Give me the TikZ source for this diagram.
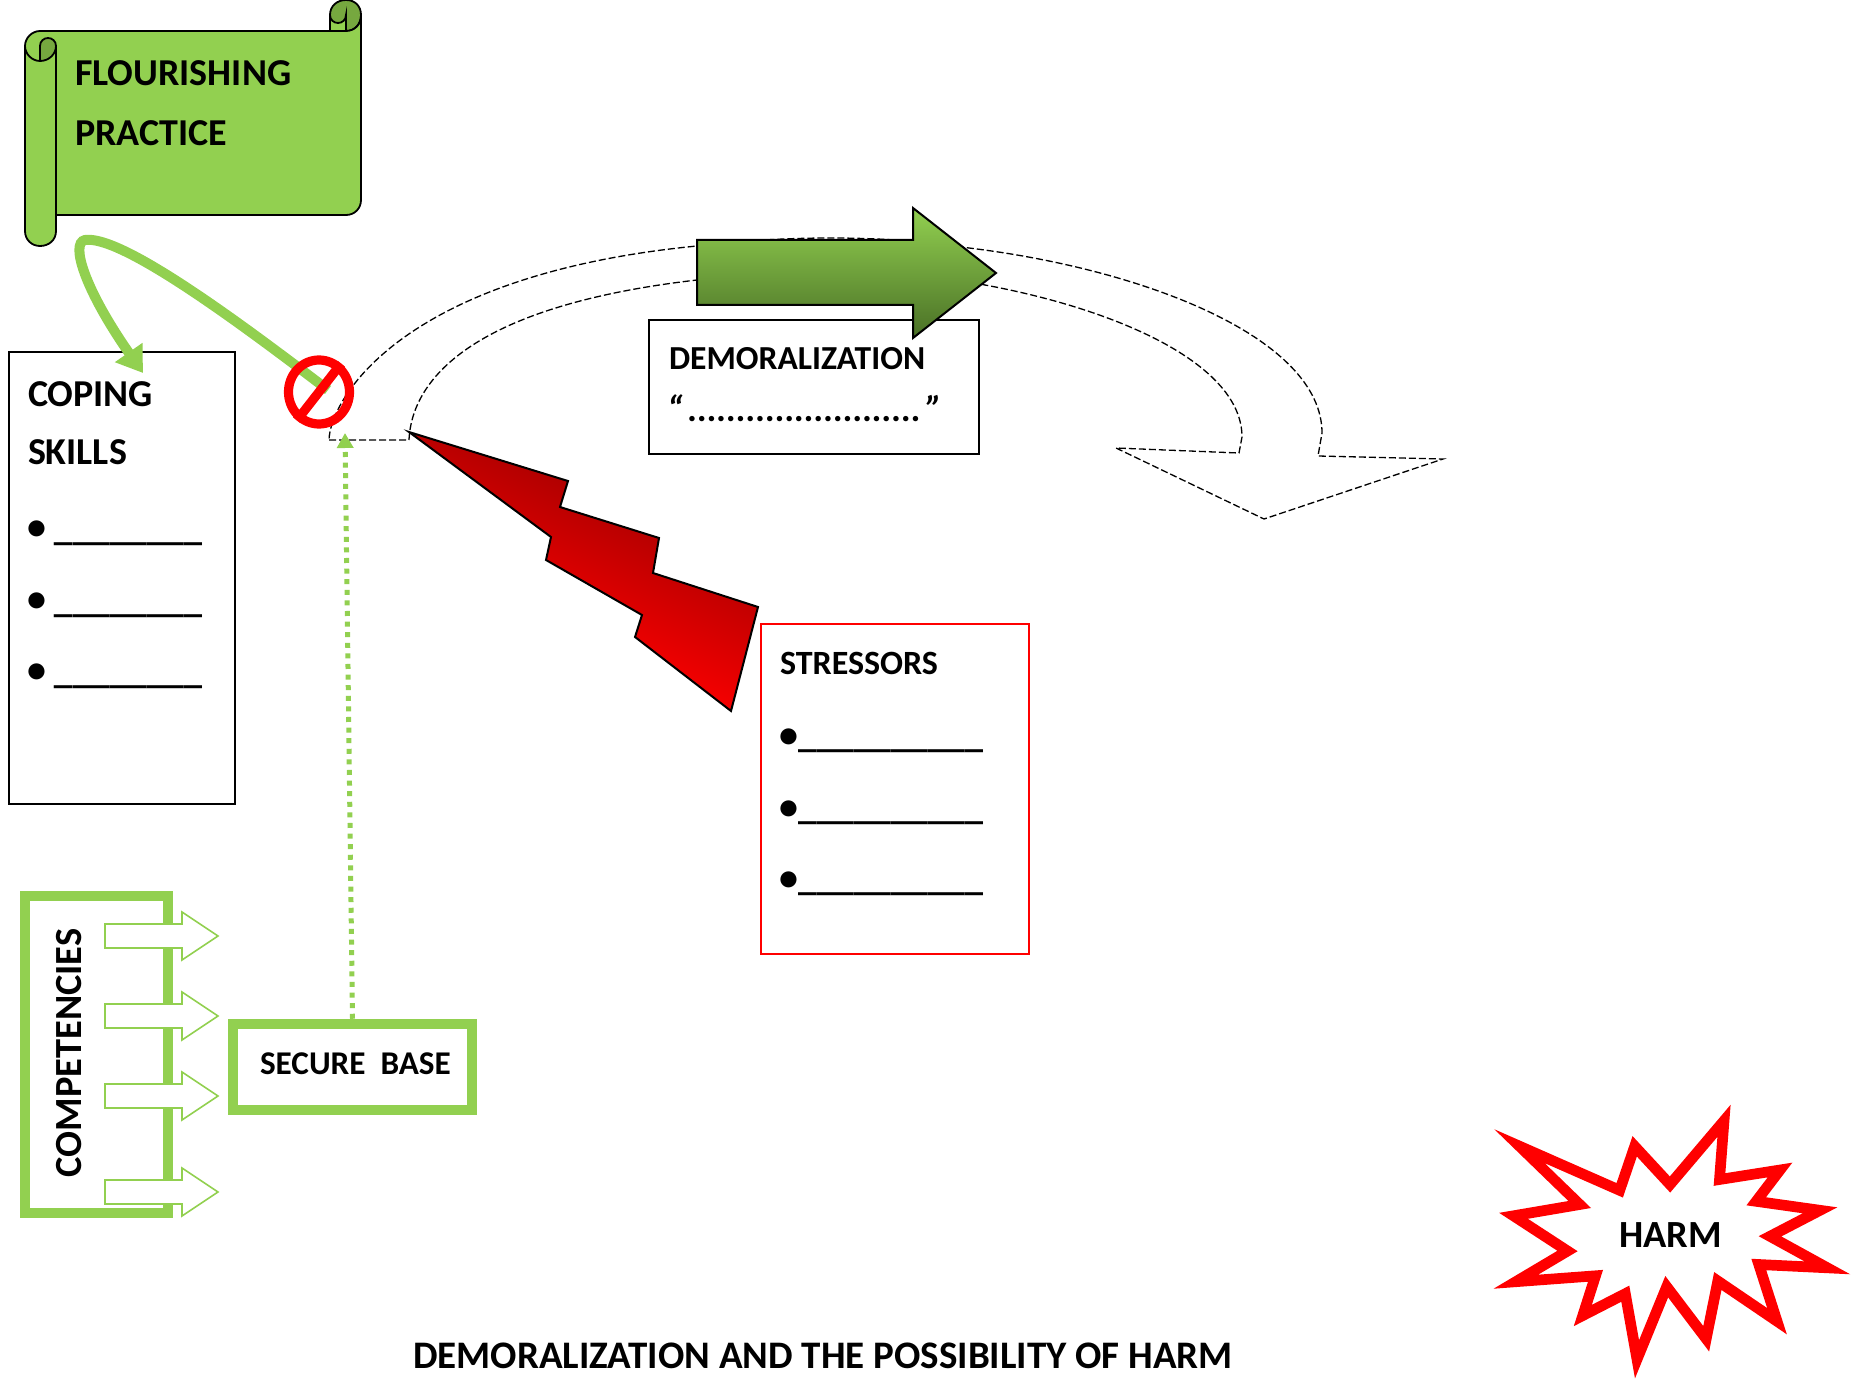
\documentclass[tikz,border=0pt]{standalone}
\usepackage{fontspec}
\setmainfont{Carlito}
\usetikzlibrary{arrows.meta,shapes.geometric}
\definecolor{lgreen}{HTML}{92D050}
\definecolor{dgreen}{HTML}{76A83F}
\definecolor{arrowbot}{HTML}{4A7026}
\newcommand\fsz[1]{\fontsize{#1}{#1}\selectfont\bfseries}
\pgfdeclareverticalshading{lightshade}{100bp}{color(0bp)=(red); color(36bp)=(red); color(62bp)=(red!70!black); color(100bp)=(red!70!black)}
\tikzset{
  lbl/.style={anchor=base west,inner sep=0pt,outer sep=0pt,text=black},
  boxk/.style={draw=black,line width=1pt,fill=white,inner sep=0pt,rectangle},
  boxr/.style={draw=red,line width=1pt,fill=white,inner sep=0pt,rectangle},
  boxg/.style={draw=lgreen,line width=5.25pt,inner sep=0pt,rectangle},
  scrollline/.style={draw=black,line width=.9pt},
  dashline/.style={draw=black,line width=.65pt,dash pattern=on 3.5pt off 1.5pt},
  blockarrow/.style={draw=lgreen,line width=.8pt,fill=white},
  bul/.style={anchor=center,inner sep=0pt,text=black},
}
\begin{document}
\begin{tikzpicture}[x=0.5pt,y=-0.5pt]
\useasboundingbox (0,0) rectangle (1853,1380);
% ---- dashed curved arrow
\coordinate (dashL) at (329,440);
\coordinate (dashR) at (409,440);
\draw[dashline] (dashL) -- (dashR) .. controls (412,375) and (480,305) .. (697,280) .. controls (780,266) and (900,268) .. (985,285) .. controls (1120,310) and (1242,365) .. (1242,437) -- (1239,453) -- (1116,448) -- (1264,519) -- (1443,459) -- (1318,456) -- (1322,433) .. controls (1322,340) and (1150,270) .. (969,248) .. controls (880,234) and (780,236) .. (697,246) .. controls (400,275) and (330,400) .. (dashL);
% ---- demoralization box
\node[boxk,minimum width=165pt,minimum height=67pt] (demobox) at (814,387) {};
\node[lbl] (demo1) at (669,370) {\fsz{16.8}DEMORALIZATION};
\node[lbl] (demo2) at (667,422) {\fsz{18.2}\itshape “\kern2.5pt........................\kern2.5pt”};
% ---- green block arrow
\draw[draw=black,line width=1pt,shading=axis,top color=lgreen,bottom color=arrowbot]
  (697,240) -- (913,240) -- (913,208) -- (996,273) -- (913,338) -- (913,305) -- (697,305) -- cycle;
% ---- lightning
\draw[draw=black,line width=1pt,shading=lightshade,shading angle=-25]
  (409,432) -- (568,481) -- (560,507) -- (659,538) -- (653,573) -- (758,607) -- (731,711) -- (635,637) -- (642,615) -- (546,560) -- (551,537) -- cycle;
% ---- stressors
\node[boxr,minimum width=134pt,minimum height=165pt] (stress) at (895,789) {};
\node[lbl] (stresst) at (780,674) {\fsz{17}STRESSORS};
\foreach \n/\y in {1/0,2/72,3/143}{
  \node[bul] (sb\n) at (789,738+\y) {\fsz{19}•};
  \node[lbl] (su\n) at (798,747+\y) {\fsz{18.6}\_\_\_\_\_\_\_\_\_\_};
}
% ---- scroll
\fill[lgreen] (330,31) -- (330,15) -- (346,15) -- (346,31) -- cycle;
\draw[scrollline] (330,31) -- (330,15);
\draw[scrollline,fill=dgreen] (330,15) .. controls (330,6) and (337,0) .. (346,0) .. controls (355,0) and (361,6) .. (361,15) .. controls (361,24) and (355,31) .. (346,31) -- (346,15) .. controls (346,20) and (342,23) .. (338,23) .. controls (334,23) and (330,20) .. (330,15) -- cycle;
\draw[scrollline,fill=lgreen] (40,31) -- (346,31) .. controls (355,31) and (361,24) .. (361,16) -- (361,200) .. controls (361,208) and (355,215) .. (346,215) -- (56,215) -- (56,231) .. controls (56,240) and (49,246) .. (40,246) .. controls (32,246) and (25,240) .. (25,231) -- (25,46) .. controls (25,38) and (32,31) .. (40,31) -- cycle;
\draw[scrollline,fill=dgreen] (40,61) -- (40,46) .. controls (40,41) and (44,38) .. (48,38) .. controls (52,38) and (56,41) .. (56,46) .. controls (56,54) and (49,61) .. (40,61) -- cycle;
\draw[scrollline] (25,46) .. controls (25,54) and (32,61) .. (40,61);
\draw[scrollline] (56,46) -- (56,215);
\node[lbl] (flour) at (75,86) {\fsz{19}FLOURISHING};
\node[lbl] (pract) at (75,146) {\fsz{19}PRACTICE};
% ---- coping box
\node[boxk,minimum width=113pt,minimum height=226pt] (coping) at (122,578) {};
\node[lbl] (cop1) at (28,407) {\fsz{19}COPING};
\node[lbl] (cop2) at (28,464) {\fsz{19}SKILLS};
\foreach \n/\y in {1/0,2/72,3/143}{
  \node[bul] (cb\n) at (37,530+\y) {\fsz{19}•};
  \node[lbl] (cu\n) at (54,540+\y) {\fsz{18.6}\_\_\_\_\_\_\_\_};
}
% ---- green curved connector
\coordinate (curvestart) at (328,390);
\coordinate (curveend) at (143,373);
\draw[draw=lgreen,line width=5pt,-{Triangle[length=12.5pt,width=16pt]}]
  (curvestart) .. controls (230,315) and (120,235) .. (85,240) .. controls (70,243) and (85,290) .. (curveend);
% ---- prohibition symbol
\node[draw=red,line width=4.6pt,ellipse,inner sep=0pt,minimum width=30.5pt,minimum height=32pt] (nosym) at (319,392) {};
\draw[draw=red,line width=4.6pt] (nosym.52) -- (nosym.232);
% ---- competencies
\node[boxg,minimum width=71.5pt,minimum height=158.5pt] (comp) at (96.5,1054.5) {};
\node[inner sep=0pt,text=black,rotate=90] (compt) at (69,1053) {\fsz{19.2}COMPETENCIES};
\foreach \y in {936,1016,1096,1192}{
  \draw[blockarrow] (105,\y-12) -- (182,\y-12) -- (182,\y-24) -- (218,\y) -- (182,\y+24) -- (182,\y+12) -- (105,\y+12) -- cycle;
}
% ---- secure base
\node[boxg,minimum width=119.5pt,minimum height=43pt] (secure) at (352.5,1067) {};
\node[lbl] (securet) at (260,1074) {\fsz{16.6}SECURE\ \ BASE};
\coordinate (dottip) at (345,433);
\draw[draw=lgreen,line width=2.5pt,dash pattern=on 2.5pt off 2.8pt,-{Triangle[length=7.5pt,width=8pt]}] (secure.north) -- (dottip);
% ---- harm
\draw[draw=red,line width=5.35pt,miter limit=30,fill=white,line join=miter]
 (1519.5,1146.2) -- (1619.7,1190.3) -- (1634.7,1146.3) -- (1670,1184.5) -- (1724,1120.8) -- (1719.5,1179.5) -- (1780,1170) -- (1756.2,1201.3) -- (1820,1210.3) -- (1770,1236.3) -- (1827.3,1267.8) -- (1758.8,1264.5) -- (1777,1321.2) -- (1717.8,1281) -- (1706.2,1338.8) -- (1666.7,1286.7) -- (1637,1359.3) -- (1625.3,1293.7) -- (1582.8,1315.5) -- (1595.5,1275.8) -- (1515.8,1281.7) -- (1567.5,1251) -- (1513.5,1215.8) -- (1579.7,1204.5) -- cycle;
\node[lbl] (harmt) at (1619,1247) {\fsz{19.2}HARM};
% ---- title
\node[lbl] (title) at (413,1368) {\fsz{19.5}DEMORALIZATION AND THE POSSIBILITY OF HARM};
\end{tikzpicture}
\end{document}
